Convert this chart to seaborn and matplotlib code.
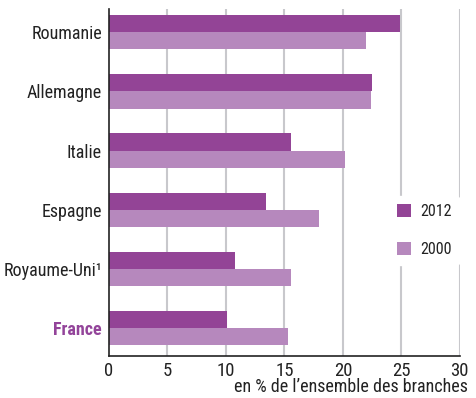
import matplotlib
matplotlib.use("Agg")
import matplotlib.pyplot as plt
import seaborn as sns
import pandas as pd
from matplotlib.patches import Patch

pays = ["Roumanie", "Allemagne", "Italie", "Espagne", "Royaume-Uni¹", "France"]
v2012 = [24.9, 22.5, 15.6, 13.4, 10.8, 10.1]
v2000 = [22.0, 22.4, 20.2, 18.0, 15.6, 15.3]
annees = ["2012", "2000"]
couleurs = ["#934496", "#b688bd"]
xticks = [0, 5, 10, 15, 20, 25, 30]
xlabel = "en % de l’ensemble des branches"

df = pd.DataFrame({
    "pays": pays * 2,
    "annee": [annees[0]] * len(pays) + [annees[1]] * len(pays),
    "valeur": v2012 + v2000,
})

sns.set_style("white")
plt.rcParams["font.family"] = ["Roboto Condensed", "DejaVu Sans"]

fig = plt.figure(figsize=(4.76, 3.98), dpi=100)
ax = fig.add_axes([0.229, 0.1055, 0.737, 0.8715])

sns.barplot(data=df, y="pays", x="valeur", hue="annee", hue_order=annees,
            order=pays, palette=couleurs, width=0.58, saturation=1,
            orient="h", ax=ax, legend=False, linewidth=0, zorder=2)

ax.set_xlim(0, 30)
ax.set_ylim(5.47, -0.39)
ax.set_xticks(xticks)
ax.set_xticklabels([str(t) for t in xticks], fontsize=13.5, color="#222222")
ax.tick_params(axis="both", length=0)
ax.tick_params(axis="x", pad=4)
ax.tick_params(axis="y", labelsize=13, labelcolor="#222222", pad=5)
for lab in ax.get_yticklabels():
    if lab.get_text() == "France":
        lab.set_color("#93449a")
        lab.set_fontweight("bold")

for t in xticks[1:]:
    ax.axvline(t, color="#c8c8cc", lw=1.5, zorder=0)

for s in ["top", "right"]:
    ax.spines[s].set_visible(False)
for s in ["left", "bottom"]:
    ax.spines[s].set_color("#222222")
    ax.spines[s].set_linewidth(1.2)
    ax.spines[s].set_zorder(3)

ax.set_ylabel("")
ax.set_xlabel("")
fig.text(468 / 476, (398 - 378) / 398, xlabel, ha="right", va="top",
         fontsize=13, color="#222222")

handles = [Patch(facecolor=c, edgecolor="none") for c in couleurs]
leg = ax.legend(handles, annees, loc="upper left",
                bbox_to_anchor=(389 / 476, 1 - 196 / 398),
                bbox_transform=fig.transFigure, borderaxespad=0,
                frameon=True, facecolor="white", edgecolor="white", framealpha=1,
                fontsize=11.5, handlelength=0.875, handleheight=0.875,
                labelspacing=1.45, handletextpad=0.56, borderpad=0.5)
leg.set_zorder(5)
for t in leg.get_texts():
    t.set_color("#222222")

fig.savefig("out.png", dpi=100)
